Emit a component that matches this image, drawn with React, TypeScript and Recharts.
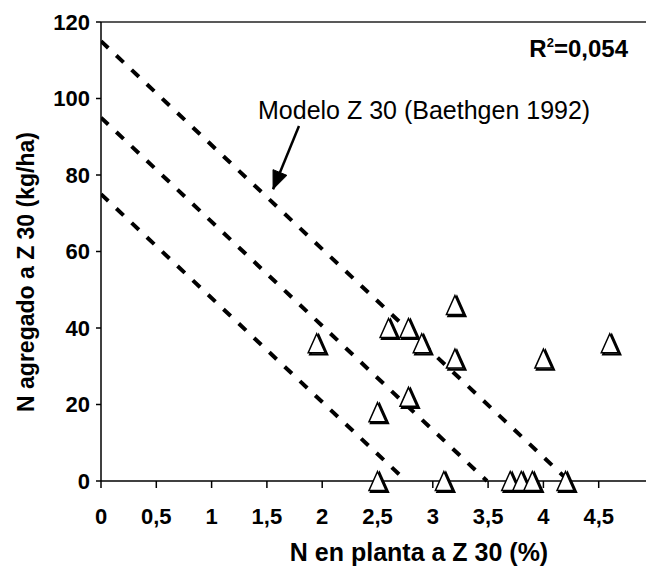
import React from "react";
import { ComposedChart, XAxis, YAxis, Line, Scatter, ReferenceLine } from "recharts";

// Observed data: N in plant at Z30 (%) vs N added at Z30 (kg/ha)
const nPlanta = [1.95, 2.5, 2.5, 2.6, 2.78, 2.9, 3.2, 3.2, 2.78, 3.1, 3.7, 3.8, 3.9, 4.2, 4.0, 4.6];
const nAgregado = [36, 18, 0, 40, 40, 36, 46, 32, 22, 0, 0, 0, 0, 0, 32, 36];

// Model lines (Baethgen 1992): start and end points
const modelStartX = [0, 0, 0];
const modelStartY = [115, 95, 75];
const modelEndX = [4.23, 3.49, 2.76];
const modelEndY = [0, 0, 0];

// Arrow annotation (data coordinates)
const arrowX = [1.79, 1.556];
const arrowY = [92.8, 76.3];

const xTicks = [0, 0.5, 1, 1.5, 2, 2.5, 3, 3.5, 4, 4.5];
const yTicks = [0, 20, 40, 60, 80, 100, 120];

const points = nPlanta.map((x, i) => ({ x, y: nAgregado[i] }));
const modelLines = modelStartX.map((x0, i) => [
  { x: x0, y: modelStartY[i] },
  { x: modelEndX[i], y: modelEndY[i] },
]);
const arrowData = arrowX.map((x, i) => ({ x, y: arrowY[i] }));

const FONT = "'Liberation Sans', Arial, Helvetica, sans-serif";

const Tri = (props: any) => {
  const { cx, cy } = props;
  if (cx == null || cy == null) return null;
  const w = 8.5;
  const h = 9.5;
  const pts = (dx: number, dy: number) =>
    `${cx + dx},${cy - h + dy} ${cx + w + dx},${cy + h + dy} ${cx - w + dx},${cy + h + dy}`;
  return (
    <g>
      <polygon points={pts(2, 1.5)} fill="none" stroke="#000" strokeWidth={2.2} />
      <polygon points={pts(0, 0)} fill="#fff" stroke="#000" strokeWidth={1.5} />
    </g>
  );
};

const ArrowDot = (props: any) => {
  const { cx, cy, index } = props;
  if (index !== 1 || cx == null) return <g key={`ad${index}`} />;
  const ang = Math.atan2(63, -26);
  const len = 18;
  const half = 7.5;
  const bx = cx - len * Math.cos(ang);
  const by = cy - len * Math.sin(ang);
  const px = -Math.sin(ang);
  const py = Math.cos(ang);
  const p = `${cx},${cy} ${bx + half * px},${by + half * py} ${bx - half * px},${by - half * py}`;
  return <polygon key="arrowhead" points={p} fill="#000" stroke="#000" strokeWidth={1} />;
};

const fmt = (v: number) => String(v).replace(".", ",");

export default function App() {
  return (
    <div style={{ position: "absolute", left: 0, top: 0, width: 646, height: 568, overflow: "hidden", background: "#fff" }}>
      <ComposedChart
        width={660}
        height={568}
        margin={{ top: 22, right: 6, bottom: 0, left: 0 }}
        style={{ fontFamily: FONT }}
      >
        <XAxis
          dataKey="x"
          type="number"
          domain={[0, 5]}
          ticks={xTicks}
          tickFormatter={fmt}
          allowDataOverflow
          height={87}
          stroke="#000"
          strokeWidth={1.5}
          tickSize={7}
          tickMargin={20}
          tick={{ fill: "#000", fontSize: 22, fontWeight: "bold", fontFamily: FONT }}
          label={{
            content: () => (
              <text x={419} y={561} textAnchor="middle" fontSize={25} fontWeight="bold" fontFamily={FONT} fill="#000">
                N en planta a Z 30 (%)
              </text>
            ),
          }}
        />
        <YAxis
          dataKey="y"
          type="number"
          domain={[0, 120]}
          ticks={yTicks}
          width={101}
          stroke="#000"
          strokeWidth={1.5}
          tickSize={5}
          tickMargin={6}
          tick={{ fill: "#000", fontSize: 22, fontWeight: "bold", fontFamily: FONT }}
          label={{
            content: () => (
              <text
                x={26}
                y={272}
                transform="rotate(-90 26 272)"
                textAnchor="middle"
                dominantBaseline="central"
                fontSize={23}
                fontWeight="bold"
                fontFamily={FONT}
                fill="#000"
              >
                N agregado a Z 30 (kg/ha)
              </text>
            ),
          }}
        />
        <ReferenceLine y={120} stroke="#222" strokeWidth={1.5} />
        {modelLines.map((d, i) => (
          <Line
            key={`m${i}`}
            data={d}
            dataKey="y"
            stroke="#000"
            strokeWidth={4}
            strokeDasharray="10 11"
            dot={false}
            activeDot={false}
            isAnimationActive={false}
            type="linear"
          />
        ))}
        <Line
          data={arrowData}
          dataKey="y"
          stroke="#000"
          strokeWidth={2.5}
          dot={ArrowDot}
          activeDot={false}
          isAnimationActive={false}
          type="linear"
        />
        <Scatter data={points} dataKey="y" shape={Tri} isAnimationActive={false} />
        <text x={258} y={119} fontSize={25} fontFamily={FONT} fill="#000">
          Modelo Z 30 (Baethgen 1992)
        </text>
        <text x={628} y={57} textAnchor="end" fontSize={24} fontWeight="bold" fontFamily={FONT} fill="#000">
          R
          <tspan dy={-10} fontSize={13}>2</tspan>
          <tspan dy={10}>=0,054</tspan>
        </text>
      </ComposedChart>
    </div>
  );
}
